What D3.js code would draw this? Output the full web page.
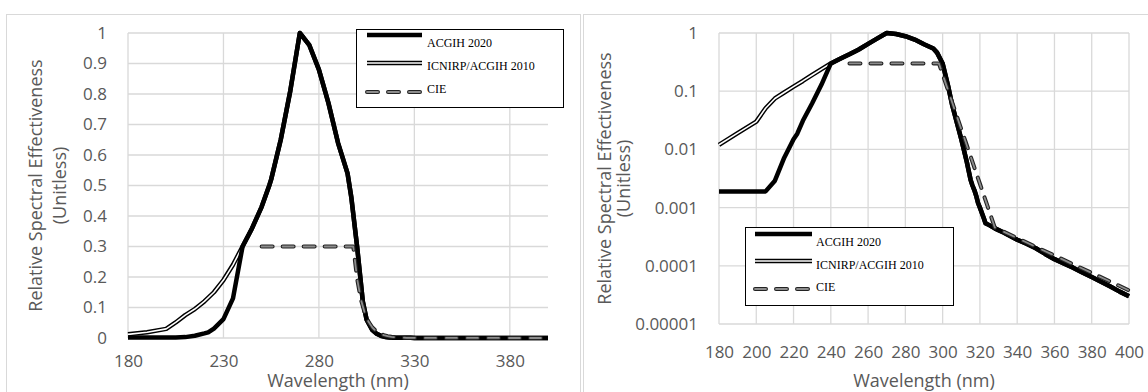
<!DOCTYPE html>
<html><head><meta charset="utf-8">
<script src="https://cdn.jsdelivr.net/npm/d3@7"></script>
<style>body{margin:0;background:#fff}svg{display:block}</style>
</head><body>
<svg id="c" width="1148" height="392"></svg>
<script>
// ---------- data ----------
const seriesNames = ["ACGIH 2020", "ICNIRP/ACGIH 2010", "CIE"];

const icnirpWl = [180,190,200,205,210,215,220,225,230,235,240,245,250,254,255,260,265,270,275,280,285,290,295,297,300,303,305,308,310,313,315,316,317,318,319,320,322,323,325,328,330,333,335,340,345,350,355,360,365,370,375,380,385,390,395,400];
const icnirpVal = [0.012,0.019,0.030,0.051,0.075,0.095,0.120,0.150,0.190,0.240,0.300,0.360,0.430,0.500,0.520,0.650,0.810,1.000,0.960,0.880,0.770,0.640,0.540,0.460,0.300,0.120,0.060,0.026,0.015,0.006,0.003,0.0024,0.0020,0.0016,0.0012,0.0010,0.00067,0.00054,0.00050,0.00044,0.00041,0.00037,0.00034,0.00028,0.00024,0.00020,0.00016,0.00013,0.00011,0.000093,0.000077,0.000064,0.000053,0.000044,0.000036,0.000030];

const acgihWl = [180,185,190,195,200,205,210,215,220,222,225,230,235,240,245,250,254,255,260,265,270,275,280,285,290,295,297,300,303,305,308,310,313,315,316,317,318,319,320,322,323,325,328,330,333,335,340,345,350,355,360,365,370,375,380,385,390,395,400];
const acgihVal = [0.0019,0.0019,0.0019,0.0019,0.0019,0.0019,0.0029,0.0072,0.0150,0.0186,0.031,0.062,0.130,0.300,0.360,0.430,0.500,0.520,0.650,0.810,1.000,0.960,0.880,0.770,0.640,0.540,0.460,0.300,0.120,0.060,0.026,0.015,0.006,0.003,0.0024,0.0020,0.0016,0.0012,0.0010,0.00067,0.00054,0.00050,0.00044,0.00041,0.00037,0.00034,0.00028,0.00024,0.00020,0.00016,0.00013,0.00011,0.000093,0.000077,0.000064,0.000053,0.000044,0.000036,0.000030];

const cieWl = [250,255,260,265,270,275,280,285,290,295,298,300,302,304,306,308,310,312,314,316,318,320,322,324,326,328,330,340,350,360,370,380,390,400];
const cieVal = [0.3,0.3,0.3,0.3,0.3,0.3,0.3,0.3,0.3,0.3,0.3,0.195,0.126,0.0819,0.0531,0.0344,0.0223,0.0145,0.0094,0.0061,0.00395,0.00257,0.00166,0.00108,0.00070,0.000454,0.000424,0.00030,0.000212,0.000150,0.000106,0.0000754,0.0000534,0.0000378];

const linXTicks = [180,230,280,330,380];
const linYTicks = [0,0.1,0.2,0.3,0.4,0.5,0.6,0.7,0.8,0.9,1];
const linYLabels = ["0","0.1","0.2","0.3","0.4","0.5","0.6","0.7","0.8","0.9","1"];
const logXTicks = [180,200,220,240,260,280,300,320,340,360,380,400];
const logYTicks = [1,0.1,0.01,0.001,0.0001,0.00001];
const logYLabels = ["1","0.1","0.01","0.001","0.0001","0.00001"];

const xTitle = "Wavelength (nm)";
const yTitle1 = "Relative Spectral Effectiveness";
const yTitle2 = "(Unitless)";

// ---------- drawing ----------
const svg = d3.select("#c");
const GRID = "#d9d9d9", LBL = "#595959";
const FONT = "'Open Sans', sans-serif";

function zip(w, v){ return w.map((d,i)=>[d, v[i]]); }
const series = [
  {name: seriesNames[1], data: zip(icnirpWl, icnirpVal), style: "double"},
  {name: seriesNames[0], data: zip(acgihWl, acgihVal), style: "thick"},
  {name: seriesNames[2], data: zip(cieWl, cieVal), style: "dash"}
];

function strokePath(g, d, style){
  if (style === "thick") {
    g.append("path").attr("d", d).attr("fill","none").attr("stroke","#000")
      .attr("stroke-width",4.5).attr("stroke-linejoin","round");
  } else if (style === "double") {
    g.append("path").attr("d", d).attr("fill","none").attr("stroke","#000")
      .attr("stroke-width",4.5).attr("stroke-linejoin","round");
    g.append("path").attr("d", d).attr("fill","none").attr("stroke","#fff")
      .attr("stroke-width",1.6).attr("stroke-linejoin","round");
  } else {
    g.append("path").attr("d", d).attr("fill","none").attr("stroke","#222")
      .attr("stroke-width",4).attr("stroke-linecap","round").attr("stroke-linejoin","round")
      .attr("stroke-dasharray","11,10");
    g.append("path").attr("d", d).attr("fill","none").attr("stroke","#8c8c8c")
      .attr("stroke-width",1.8).attr("stroke-linecap","round").attr("stroke-linejoin","round")
      .attr("stroke-dasharray","11,10");
  }
}

function legend(g, x0, y0, w, h, lx1, lx2, ly, tx, ty){
  g.append("rect").attr("x",x0).attr("y",y0).attr("width",w).attr("height",h)
    .attr("fill","#fff").attr("stroke","#000").attr("stroke-width",1);
  const order = [[seriesNames[0],"thick"],[seriesNames[1],"double"],[seriesNames[2],"dash"]];
  order.forEach((o,i)=>{
    strokePath(g, d3.line()([[lx1,ly[i]],[lx2,ly[i]]]), o[1]);
    g.append("text").attr("x",tx).attr("y",ty[i]).text(o[0])
      .attr("font-family","'Liberation Serif', 'Times New Roman', serif")
      .attr("font-size",12).attr("fill","#000");
  });
}

function panel(opt){
  const g = svg.append("g");
  const {x, y, xTicks, yTicks, yLabels, top, bottom, left, right} = opt;
  g.selectAll(".hg").data(yTicks).enter().append("line")
    .attr("x1",left).attr("x2",right).attr("y1",d=>y(d)).attr("y2",d=>y(d))
    .attr("stroke",GRID).attr("stroke-width",1.3);
  g.selectAll(".vg").data(xTicks).enter().append("line")
    .attr("x1",d=>x(d)).attr("x2",d=>x(d)).attr("y1",top).attr("y2",bottom)
    .attr("stroke",GRID).attr("stroke-width",1.3);
  const ay = g.append("g").attr("transform",`translate(${left},0)`)
    .call(d3.axisLeft(y).tickValues(yTicks).tickSize(0).tickPadding(opt.yPad)
      .tickFormat((d,i)=>yLabels[i]));
  const ax = g.append("g").attr("transform",`translate(0,${bottom})`)
    .call(d3.axisBottom(x).tickValues(xTicks).tickSize(0).tickPadding(opt.xPad)
      .tickFormat(d3.format("d")));
  [ay, ax].forEach(a=>{
    a.select(".domain").remove();
    a.selectAll("text").attr("font-family",FONT).attr("font-size",opt.fs).attr("fill",LBL);
  });
  const line = d3.line().x(d=>x(d[0])).y(d=>y(d[1]));
  series.forEach(s=>strokePath(g, line(s.data), s.style));
  g.append("text").attr("x",(left+right)/2).attr("y",opt.xTitleY).attr("text-anchor","middle")
    .attr("font-family",FONT).attr("font-size",opt.tfs).attr("fill",LBL).text(xTitle);
  const cy = (top+bottom)/2 + opt.yTitleShift;
  g.append("text").attr("transform",`translate(${opt.yT1},${cy}) rotate(-90)`).attr("text-anchor","middle")
    .attr("font-family",FONT).attr("font-size",opt.tfs).attr("fill",LBL).text(yTitle1);
  g.append("text").attr("transform",`translate(${opt.yT2},${cy}) rotate(-90)`).attr("text-anchor","middle")
    .attr("font-family",FONT).attr("font-size",opt.tfs).attr("fill",LBL).text(yTitle2);
  return g;
}

svg.append("rect").attr("x",6.5).attr("y",14.5).attr("width",574).attr("height",400)
  .attr("fill","none").attr("stroke",GRID).attr("stroke-width",1);
svg.append("rect").attr("x",583.5).attr("y",14.5).attr("width",600).attr("height",400)
  .attr("fill","none").attr("stroke",GRID).attr("stroke-width",1);

const xl = d3.scaleLinear().domain([180,400]).range([128,548]);
const yl = d3.scaleLinear().domain([0,1]).range([338,33]);
const gl = panel({x:xl, y:yl, xTicks:linXTicks, yTicks:linYTicks, yLabels:linYLabels,
  top:33, bottom:338, left:128, right:548, yPad:21, xPad:17, fs:17, tfs:18,
  xTitleY:387, yT1:42, yT2:66, yTitleShift:0});
legend(gl, 356.5, 29.5, 207, 78, 367, 422, [35,63,92], 427, [47,70,93]);

const xr = d3.scaleLinear().domain([180,400]).range([719,1129]);
const yr = d3.scaleLog().domain([0.00001,1]).range([324,33]);
const gr = panel({x:xr, y:yr, xTicks:logXTicks, yTicks:logYTicks, yLabels:logYLabels,
  top:33, bottom:324, left:719, right:1129, yPad:21, xPad:22, fs:17, tfs:18,
  xTitleY:387, yT1:611, yT2:630, yTitleShift:0});
legend(gr, 745.5, 227.5, 208, 78, 755, 812, [234,261,289], 816, [246,269,291]);
</script>
</body></html>
